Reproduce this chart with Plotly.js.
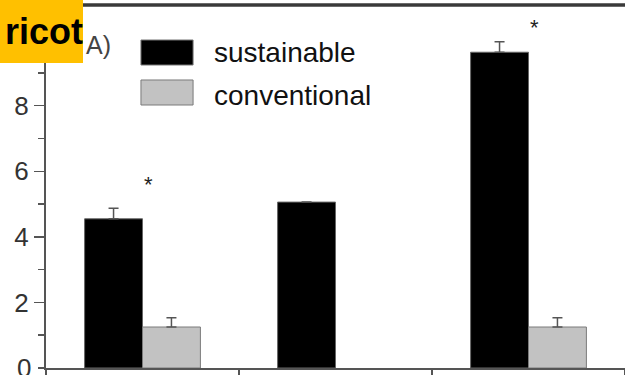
<!DOCTYPE html>
<html>
<head>
<meta charset="utf-8">
<script src="https://cdn.plot.ly/plotly-3.0.1.min.js"></script>
<style>html,body{margin:0;padding:0;background:#fff;}#chart{width:625px;height:375px;}</style>
</head>
<body>
<div id="chart"></div>
<script>
// Data
var categories = ["Group 1", "Group 2", "Group 3"];
var sustainable = [4.55, 5.06, 9.63];
var sustainableErr = [0.32, 0, 0.32];
var conventional = [1.25, null, 1.25];
var conventionalErr = [0.28, 0, 0.28];
var noLowerErr = [0, 0, 0];
var sigLevel = [5.6, null, 10.37];   // height of the significance asterisks
var yTickVals = [2, 4, 6, 8];
var yTickText = ["2", "4", "6", "8"];
var seriesNames = ["sustainable", "conventional"];
var panelLabel = "A)";
var overlayLabel = "ricot";

var FONT = "Arial, 'Liberation Sans', sans-serif";

var traces = [
  {
    type: "bar", name: seriesNames[0], x: categories, y: sustainable,
    marker: {color: "#000000", line: {color: "#666666", width: 1}},
    error_y: {type: "data", symmetric: false, array: sustainableErr, arrayminus: noLowerErr,
              visible: true, color: "#555555", thickness: 1.5, width: 5},
    showlegend: false
  },
  {
    type: "bar", name: seriesNames[1], x: categories, y: conventional,
    marker: {color: "#c2c2c2", line: {color: "#7a7a7a", width: 1}},
    error_y: {type: "data", symmetric: false, array: conventionalErr, arrayminus: noLowerErr,
              visible: true, color: "#555555", thickness: 1.5, width: 5},
    showlegend: false
  }
];

var annotations = [];
// significance asterisks
for (var i = 0; i < categories.length; i++) {
  if (sigLevel[i] !== null) {
    annotations.push({
      xref: "x", yref: "y", x: i, y: sigLevel[i], xshift: 6,
      text: "*", showarrow: false, font: {family: FONT, size: 22, color: "#222"}
    });
  }
}
// zero tick label, partly cut by the bottom edge as in the reference
annotations.push({
  xref: "paper", yref: "y", x: -0.022, y: 0, xanchor: "right", yanchor: "middle",
  text: "0", showarrow: false, font: {family: FONT, size: 26, color: "#333"}
});
// panel label
annotations.push({
  xref: "paper", yref: "paper", x: 0.0656, y: 0.890, xanchor: "left", yanchor: "middle",
  text: panelLabel, showarrow: false, font: {family: FONT, size: 25, color: "#444"}
});
// orange overlay box
annotations.push({
  xref: "paper", yref: "paper", x: -0.0794, y: 1.0138, xanchor: "left", yanchor: "top",
  width: 83, height: 63, borderpad: 0, borderwidth: 0, bgcolor: "#FFC000",
  align: "right", valign: "middle",
  text: "<b>" + overlayLabel + "</b>", showarrow: false,
  font: {family: FONT, size: 36, color: "#000"}
});
// legend texts
annotations.push({
  xref: "paper", yref: "paper", x: 0.2867, y: 0.870, xanchor: "left", yanchor: "middle",
  text: seriesNames[0], showarrow: false, font: {family: FONT, size: 28, color: "#111"}
});
annotations.push({
  xref: "paper", yref: "paper", x: 0.2867, y: 0.752, xanchor: "left", yanchor: "middle",
  text: seriesNames[1], showarrow: false, font: {family: FONT, size: 28, color: "#111"}
});

var shapes = [
  {type: "line", xref: "paper", yref: "paper", x0: 0, x1: 1, y0: 1, y1: 1,
   line: {color: "#3a3a3a", width: 3.5}},
  {type: "rect", xref: "paper", yref: "paper", x0: 0.164, x1: 0.254, y0: 0.8347, y1: 0.9036,
   fillcolor: "#000", line: {color: "#777", width: 1}},
  {type: "rect", xref: "paper", yref: "paper", x0: 0.164, x1: 0.254, y0: 0.7245, y1: 0.7934,
   fillcolor: "#c2c2c2", line: {color: "#7a7a7a", width: 1}}
];

var layout = {
  width: 625, height: 375,
  margin: {l: 46, r: 0, t: 5, b: 7},
  paper_bgcolor: "#ffffff", plot_bgcolor: "#ffffff",
  barmode: "group", bargap: 0.4, bargroupgap: 0,
  showlegend: false,
  xaxis: {
    type: "category", range: [-0.5, 2.5],
    showline: true, linecolor: "#555", linewidth: 2, mirror: false,
    ticks: "outside", tickson: "boundaries", ticklen: 8, tickcolor: "#555", tickwidth: 1.5,
    showticklabels: false, showgrid: false, zeroline: false
  },
  yaxis: {
    range: [0, 11.07], tickmode: "array", tickvals: yTickVals, ticktext: yTickText,
    showline: true, linecolor: "#555", linewidth: 2, mirror: false,
    ticks: "outside", ticklen: 10, tickcolor: "#555", tickwidth: 1.5,
    minor: {tickmode: "linear", tick0: 0, dtick: 1, ticks: "outside", ticklen: 6, tickcolor: "#555", tickwidth: 1.5},
    tickfont: {family: FONT, size: 26, color: "#333"},
    showgrid: false, zeroline: false
  },
  annotations: annotations,
  shapes: shapes
};

Plotly.newPlot("chart", traces, layout, {displayModeBar: false, staticPlot: true});
</script>
</body>
</html>
